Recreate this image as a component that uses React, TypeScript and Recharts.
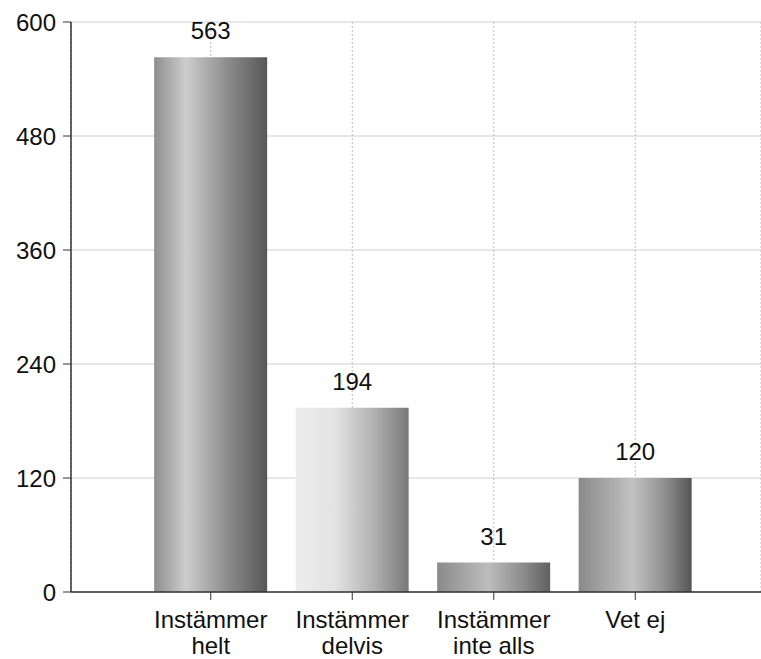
import React from "react";
import { BarChart, Bar, XAxis, YAxis, CartesianGrid, Cell, LabelList } from "recharts";

const categories = ["Instämmer helt", "Instämmer delvis", "Instämmer inte alls", "Vet ej"];
const tickLines = [["Instämmer", "helt"], ["Instämmer", "delvis"], ["Instämmer", "inte alls"], ["Vet ej"]];
const values = [563, 194, 31, 120];
const yTicks = [0, 120, 240, 360, 480, 600];

const gradients = [
  [["0%", "#8e8e8e"], ["28%", "#cdcdcd"], ["65%", "#8c8c8c"], ["100%", "#575757"]],
  [["0%", "#ededed"], ["35%", "#e3e3e3"], ["70%", "#b0b0b0"], ["100%", "#787878"]],
  [["0%", "#8a8a8a"], ["45%", "#bdbdbd"], ["75%", "#8e8e8e"], ["100%", "#606060"]],
  [["0%", "#8a8a8a"], ["48%", "#c2c2c2"], ["78%", "#8c8c8c"], ["100%", "#555555"]],
];

const data = categories.map((c, i) => ({ name: c, value: values[i], idx: i }));

const FONT = "'Liberation Sans', Arial, sans-serif";

const XTick = (props: any) => {
  const { x, y, index } = props;
  const lines = tickLines[index] || [];
  return (
    <g>
      {lines.map((l, i) => (
        <text key={i} x={x} y={y + 26 + i * 26} textAnchor="middle" fontSize={24} fontFamily={FONT} fill="#111">
          {l}
        </text>
      ))}
    </g>
  );
};

export default function App() {
  return (
    <div style={{ position: "absolute", left: 0, top: 0, background: "#fff" }}>
      <BarChart
        width={761}
        height={659}
        data={data}
        margin={{ top: 22, right: 0, bottom: 0, left: 0 }}
        barCategoryGap="10%"
      >
        <defs>
          {gradients.map((g, i) => (
            <linearGradient key={i} id={`g${i}`} x1="0" y1="0" x2="1" y2="0">
              {g.map(([o, c], j) => (
                <stop key={j} offset={o} stopColor={c} />
              ))}
            </linearGradient>
          ))}
        </defs>
        <CartesianGrid vertical={false} stroke="#cfcfcf" strokeWidth={1} />
        <CartesianGrid horizontal={false} stroke="#bdbdbd" strokeDasharray="2 2" />
        <XAxis
          dataKey="name"
          height={67}
          padding={{ left: 69, right: 55 }}
          tick={<XTick />}
          tickSize={8}
          tickLine={{ stroke: "#333" }}
          axisLine={{ stroke: "#333", strokeWidth: 1.5 }}
          interval={0}
        />
        <YAxis
          width={71}
          domain={[0, 600]}
          ticks={yTicks}
          interval={0}
          tickSize={8}
          tickMargin={7}
          tickLine={{ stroke: "#333" }}
          axisLine={{ stroke: "#333", strokeWidth: 1.5 }}
          tick={{ fontSize: 24, fontFamily: FONT, fill: "#111" }}
        />
        <Bar dataKey="value" isAnimationActive={false}>
          {data.map((d, i) => (
            <Cell key={i} fill={`url(#g${i})`} />
          ))}
          <LabelList dataKey="value" position="top" offset={18} fontSize={24} fontFamily={FONT} fill="#111" />
        </Bar>
      </BarChart>
    </div>
  );
}
